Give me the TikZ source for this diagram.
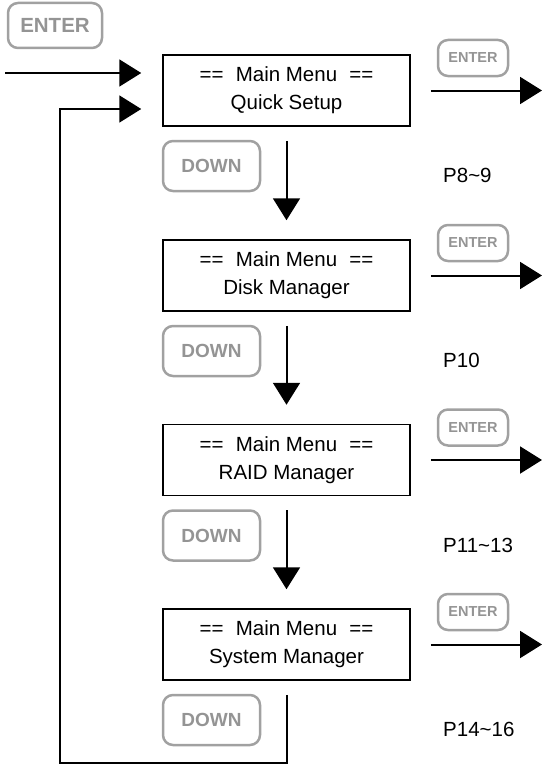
\documentclass[tikz,border=0pt]{standalone}
\usepackage{fontspec}
\setmainfont{Liberation Sans}
\usetikzlibrary{arrows.meta}

\tikzset{
  menu/.style={draw, line width=1.5pt, minimum width=247pt, minimum height=71pt, align=center, font=\fontsize{20.5}{28}\selectfont},
  key/.style={draw=black!37, text=black!42, line width=2.5pt, rounded corners=10pt, inner sep=0pt, font=\bfseries\fontsize{14.5}{16}\selectfont},
  flow/.style={line width=2pt, -{Triangle[length=22pt,width=27pt]}},
  page/.style={right, inner sep=0pt, font=\fontsize{20.5}{24}\selectfont}
}

\begin{document}
\begin{tikzpicture}[x=1pt,y=-1pt]
  \useasboundingbox (0,0) rectangle (546,768);
%  \draw [help lines] (0,0) grid [step=50] (546,768);
  \node [key, minimum width=94pt, minimum height=45pt, font=\bfseries\fontsize{20.5}{22}\selectfont] (enter0) at (55,25.5) {ENTER};

  \foreach \i/\y/\title/\page in {1/90.5/Quick Setup/P8\textasciitilde9, 2/275.5/Disk Manager/P10, 3/460/RAID Manager/P11\textasciitilde13, 4/644.5/System Manager/P14\textasciitilde16} {
    \node [menu] (m\i) at (286.5,\y) {==\hspace{0.6em}Main Menu\hspace{0.6em}==\\ \title};
    \node [key, minimum width=70pt, minimum height=36pt] (enter\i) at (473,\y-32.5) {ENTER};
    \node [key, minimum width=97pt, minimum height=50pt, font=\bfseries\fontsize{19}{20}\selectfont] (down\i) at (211.5,\y+75.5) {DOWN};
    \node [page] (p\i) at (443,\y+85) {\page};
    \coordinate (out\i) at (542,\y);
    \draw [flow, shorten <=20pt] (m\i) -- (out\i);
  }

  \foreach \i/\j in {1/2, 2/3, 3/4} \draw [flow, shorten <=14pt, shorten >=19pt] (m\i) -- (m\j);

  \coordinate (start) at (5,73);
  \draw [flow, shorten >=21pt] (start) -- (start -| m1.west);

  \coordinate (loop) at (60,763);
  \draw [flow, shorten >=21pt] ([yshift=-14pt]m4.south) |- (loop) |- ([yshift=-18.5pt]m1.west);
\end{tikzpicture}
\end{document}
